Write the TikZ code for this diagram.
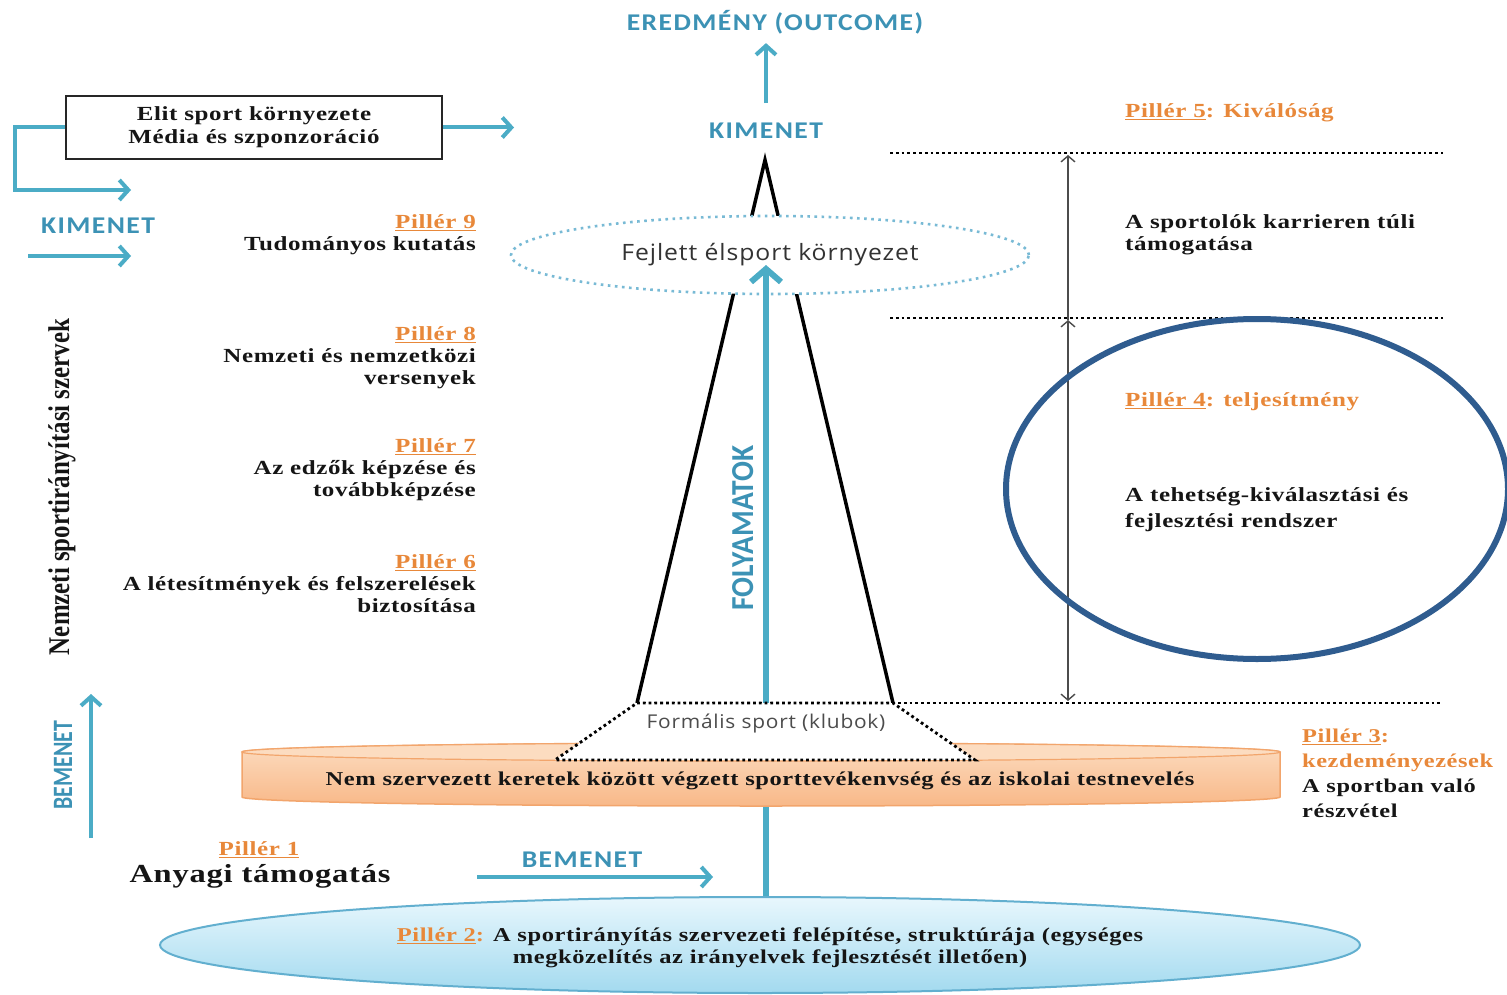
\documentclass[tikz,border=0pt]{standalone}
\usepackage{fontspec}
\setmainfont{Liberation Serif}
\newfontfamily\serfnt[FakeStretch=1.25, LetterSpace=3]{Liberation Serif}
\newfontfamily\tealfnt[FakeStretch=1.15, LetterSpace=6]{Carlito}
\newfontfamily\calfnt{Carlito}
\newfontfamily\osfnt[FakeStretch=1.1, LetterSpace=4]{Open Sans}
\usetikzlibrary{arrows.meta,shapes.geometric}
\definecolor{teal1}{HTML}{4BACC6}
\definecolor{tealtx}{HTML}{3C92B5}
\definecolor{tealdot}{HTML}{78BAD5}
\definecolor{orng}{HTML}{E8883A}
\definecolor{dblue}{HTML}{2F5C8F}
\definecolor{txt}{HTML}{151515}
\definecolor{barTop}{HTML}{FCDCC0}
\definecolor{barBot}{HTML}{F8B888}
\definecolor{barEdge}{HTML}{F2A56C}
\definecolor{ellTop}{HTML}{E8F7FD}
\definecolor{ellBot}{HTML}{A3DAEF}
\definecolor{ellEdge}{HTML}{62AFCF}
\newcommand{\pl}[1]{\textcolor{orng}{\underline{#1}}}
\tikzset{dtip/.tip={Straight Barb[length=6pt,width=14pt]}}
\begin{document}
\begin{tikzpicture}[x=1pt,y=-1pt,
  ttl/.style={font=\tealfnt\bfseries\fontsize{24}{26}\selectfont, text=tealtx, inner sep=0pt},
  srt/.style={font=\serfnt\bfseries\fontsize{20}{22}\selectfont, text=txt, inner sep=0pt},
  tarrow/.style={draw=teal1, line width=4pt, -{Straight Barb[length=9pt,width=20pt]}},
  dotln/.style={draw=black, line width=2.8pt, dash pattern=on 2.8pt off 3pt},
  pyr/.style={draw=black, line width=3.5pt},
  dbl/.style={draw=black!70, line width=1.4pt}
]
\useasboundingbox (0,0) rectangle (1507,995);
\fill[white] (0,0) rectangle (1507,995);

% ---------- top outcome ----------
\node[ttl] (outcome) at (775,22) {EREDMÉNY (OUTCOME)};
\node[ttl] (kim1) at (766,131) {KIMENET};
\draw[tarrow, shorten <=20pt, shorten >=9pt] (kim1.north) -- (kim1.north |- outcome.south);

% ---------- pyramid ----------
\coordinate (apex) at (765,160);
\coordinate (pl) at (637,703);
\coordinate (pr) at (893,703);
\draw[pyr] (pl) -- (apex) -- (pr);

\node[ellipse, draw=tealdot, line width=2.6pt, dash pattern=on 2.6pt off 4.5pt, fill=white,
      minimum width=518pt, minimum height=78pt, inner sep=0pt,
      font=\osfnt\fontsize{22.5}{24}\selectfont, text=black!80] (fej) at (770,255) {Fejlett élsport környezet};

% ---------- right dotted levels ----------
\coordinate (l1a) at (890,153);  \coordinate (l1b) at (1443,153);
\coordinate (l2a) at (890,318);  \coordinate (l2b) at (1443,318);
\coordinate (l3b) at (1443,703);
\draw[dotln] (l1a) -- (l1b);
\draw[dotln] (l2a) -- (l2b);
\draw[dotln] (pl) -- (l3b);

\coordinate (d1) at (1068,155);
\coordinate (d2) at (1068,320);
\coordinate (d3) at (1068,701);
\draw[dbl, -{dtip}] (d2) -- (d1);
\draw[dbl, {dtip}-{dtip}] (d2) -- (d3);

% ---------- blue ellipse pillar 4 ----------
\draw[dblue, line width=6pt] (1257,489) ellipse [x radius=251, y radius=170];

% ---------- bottom ellipse pillar 2 ----------
\node[ellipse, draw=ellEdge, line width=2pt, top color=ellTop, bottom color=ellBot,
      minimum width=1200pt, minimum height=96pt, inner sep=0pt] (p2) at (760,945) {};
\node[font=\serfnt\bfseries\fontsize{19.6}{22}\selectfont, text=txt, align=center, inner sep=0pt]
      (p2t) at (770,948) {\pl{Pillér 2}\textcolor{orng}{:} A sportirányítás szervezeti felépítése, struktúrája (egységes\\megközelítés az irányelvek fejlesztését illetően)};

% ---------- central process arrow ----------
\coordinate (ftip) at (766,265);
\draw[draw=teal1, line width=6pt, -{Straight Barb[length=13pt,width=30pt]}] (ftip |- p2.north) -- (ftip);
\node[rotate=90, font=\calfnt\bfseries\fontsize{32}{34}\selectfont, text=tealtx, inner sep=0pt]
      (folya) at (743,528) {\scalebox{0.92}[1]{FOLYAMATOK}};

% ---------- orange participation bar ----------
\shade[top color=barTop, bottom color=barBot, draw=barEdge, line width=1.5pt]
  (242,752) -- (242,797) arc[start angle=180, end angle=0, x radius=519, y radius=9]
  -- (1280,752) arc[start angle=0, end angle=-180, x radius=519, y radius=9] -- cycle;
\draw[barEdge, line width=1.2pt, fill=barTop] (761,752) ellipse [x radius=519, y radius=9];
\node[font=\serfnt\bfseries\fontsize{19.6}{22}\selectfont, text=txt, inner sep=0pt] (bar) at (760,781)
  {Nem szervezett keretek között végzett sporttevékenvség és az iskolai testnevelés};

% ---------- formal sport trapezoid ----------
\coordinate (tbl) at (555,760);
\coordinate (tbr) at (975,760);
\draw[dotln, fill=white] (pl) -- (pr) -- (tbr) -- (tbl) -- cycle;
\node[font=\osfnt\fontsize{19}{21}\selectfont, text=black!70, inner sep=0pt] (formal) at (766,723) {Formális sport (klubok)};

% ---------- left top: box & KIMENET ----------
\node[draw=black!85, line width=2pt, minimum width=376pt, minimum height=63pt, align=center,
      font=\serfnt\bfseries\fontsize{20}{23}\selectfont, text=txt] (elit) at (254,127.5)
      {Elit sport környezete\\Média és szponzoráció};
\coordinate (elitout) at (514,127.5);
\draw[tarrow] (elit.east) -- (elitout);
\coordinate (brk) at (131,190);
\draw[tarrow] (elit.west) -- ++(-50,0) |- (brk);

\node[ttl] (kim2) at (98,226) {KIMENET};
\coordinate (k2a) at (28,256);
\coordinate (k2b) at (131,256);
\draw[tarrow] (k2a) -- (k2b);

% ---------- left pillars ----------
\node[srt, align=right, anchor=east] (p9) at (476,235) {\pl{Pillér 9}\\Tudományos kutatás};
\node[srt, align=right, anchor=east] (p8) at (476,358) {\pl{Pillér 8}\\Nemzeti és nemzetközi\\versenyek};
\node[srt, align=right, anchor=east] (p7) at (476,470) {\pl{Pillér 7}\\Az edzők képzése és\\továbbképzése};
\node[srt, align=right, anchor=east] (p6) at (476,584) {\pl{Pillér 6}\\A létesítmények és felszerelések\\biztosítása};

\node[rotate=90, font=\rmfamily\bfseries\fontsize{30}{32}\selectfont, text=txt, inner sep=0pt]
      (nsz) at (62,487) {\scalebox{0.83}[1]{Nemzeti sportirányítási szervek}};

% ---------- left bottom: BEMENET ----------
\node[rotate=90, font=\calfnt\bfseries\fontsize{28}{30}\selectfont, text=tealtx, inner sep=0pt]
      (bem1) at (63,765) {\scalebox{0.78}[1]{BEMENET}};
\coordinate (b1a) at (91,838);
\coordinate (b1b) at (91,694);
\draw[tarrow] (b1a) -- (b1b);

\node[srt] (p1) at (259,850) {\pl{Pillér 1}};
\node[font=\serfnt\bfseries\fontsize{26}{28}\selectfont, text=txt, inner sep=0pt] (anyagi) at (260,876) {Anyagi támogatás};

\node[ttl] (bem2) at (582,860) {BEMENET};
\coordinate (b2a) at (477,877);
\coordinate (b2b) at (713,877);
\draw[tarrow] (b2a) -- (b2b);

% ---------- right pillars ----------
\node[srt, anchor=west] (p5) at (1125,113) {\pl{Pillér 5}\textcolor{orng}{: Kiválóság}};
\node[srt, anchor=west, align=left] (p5t) at (1125,235) {A sportolók karrieren túli\\támogatása};
\node[srt, anchor=west] (p4) at (1125,402) {\pl{Pillér 4}\textcolor{orng}{: teljesítmény}};
\node[srt, anchor=west, align=left, font=\serfnt\bfseries\fontsize{20}{26}\selectfont] (p4t) at (1125,510) {A tehetség-kiválasztási és\\fejlesztési rendszer};
\node[srt, anchor=west, align=left, font=\serfnt\bfseries\fontsize{19.5}{25}\selectfont] (p3) at (1302,773)
      {\pl{Pillér 3}\textcolor{orng}{:}\\\textcolor{orng}{kezdeményezések}\\A sportban való\\részvétel};
\end{tikzpicture}
\end{document}
